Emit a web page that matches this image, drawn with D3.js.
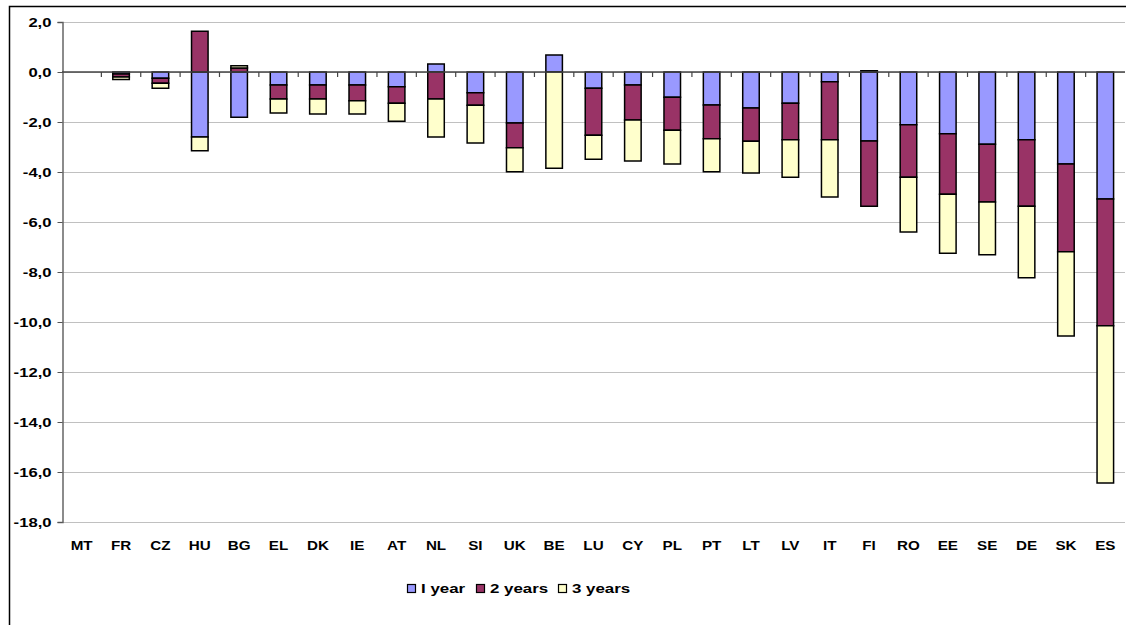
<!DOCTYPE html>
<html><head><meta charset="utf-8">
<script src="https://cdn.jsdelivr.net/npm/d3@7"></script>
<style>body{margin:0;background:#fff}svg{display:block}text{font-family:"Liberation Sans",Arial,sans-serif;font-weight:bold}</style>
</head><body>
<script>
const categories = ["MT","FR","CZ","HU","BG","EL","DK","IE","AT","NL","SI","UK","BE","LU","CY","PL","PT","LT","LV","IT","FI","RO","EE","SE","DE","SK","ES"];
const year1  = [0,-0.08,-0.25,-2.60,-1.81,-0.52,-0.52,-0.52,-0.59,0.32,-0.83,-2.04,0.68,-0.65,-0.52,-1.01,-1.32,-1.44,-1.25,-0.39,-2.76,-2.11,-2.47,-2.89,-2.71,-3.68,-5.08];
const year2  = [0,-0.12,-0.20,1.63,0.16,-0.56,-0.56,-0.63,-0.66,-1.08,-0.50,-0.99,0,-1.88,-1.40,-1.32,-1.35,-1.33,-1.46,-2.32,-2.61,-2.10,-2.42,-2.31,-2.66,-3.51,-5.07];
const year3  = [0,-0.10,-0.20,-0.55,0.09,-0.56,-0.60,-0.53,-0.72,-1.52,-1.51,-0.96,-3.85,-0.96,-1.64,-1.35,-1.32,-1.27,-1.50,-2.29,0.05,-2.19,-2.36,-2.11,-2.86,-3.37,-6.29];
const seriesNames = ["I year","2 years","3 years"];
const colors = ["#9999FF","#993366","#FFFFCC"];
const yTicks = [2,0,-2,-4,-6,-8,-10,-12,-14,-16,-18];

const W=1126,H=625;
const svg=d3.select("body").append("svg").attr("width",W).attr("height",H);
svg.append("rect").attr("x",9.5).attr("y",6.5).attr("width",W+10).attr("height",H+10).attr("fill","none").attr("stroke","#000").attr("stroke-width",1.5);

const x=d3.scaleBand().domain(categories).range([62,1125]);
const y=d3.scaleLinear().domain([-18,2]).range([522,22]);

// gridlines
svg.append("g").selectAll("line").data(yTicks).join("line")
  .attr("x1",62).attr("x2",1125).attr("y1",d=>Math.round(y(d))+0.5).attr("y2",d=>Math.round(y(d))+0.5)
  .attr("stroke","#c0c0c0").attr("stroke-width",1.2);

// y axis
const ya=svg.append("g").attr("transform","translate(62.5,0)").call(d3.axisLeft(y).tickValues(yTicks).tickSize(5).tickPadding(6).tickFormat(d=>d3.format(".1f")(d).replace(".",",").replace("−","-")));
ya.select(".domain").attr("stroke","#666").attr("stroke-width",1.5);
ya.selectAll(".tick line").attr("stroke","#555");
ya.selectAll("text").attr("font-size",13).attr("fill","#000").style("font-weight","bold")
  .attr("x",null).attr("transform","translate(-11,0) scale(1.28,1)");

// stacked bars
const data=categories.map((c,i)=>({c,v:[year1[i],year2[i],year3[i]]}));
const bw=x.bandwidth()*0.42;
const g=svg.append("g");
data.forEach(d=>{
  let pos=0,neg=0;
  d.v.forEach((v,k)=>{
    if(v===0)return;
    let y0,y1;
    if(v>0){y0=pos;y1=pos+v;pos=y1;}else{y0=neg;y1=neg+v;neg=y1;}
    const top=y(Math.max(y0,y1)),bot=y(Math.min(y0,y1));
    g.append("rect").attr("x",x(d.c)+(x.bandwidth()-bw)/2).attr("width",bw)
      .attr("y",top).attr("height",Math.max(bot-top,0.5))
      .attr("fill",colors[k]).attr("stroke","#000").attr("stroke-width",1.5);
  });
});

// zero axis
const xa=svg.append("g").attr("transform",`translate(0,${y(0)})`);
xa.append("line").attr("x1",62).attr("x2",1125).attr("stroke","#444").attr("stroke-width",1.5);
xa.selectAll("line.t").data(categories.slice(1)).join("line").attr("class","t")
  .attr("x1",d=>x(d)).attr("x2",d=>x(d)).attr("y1",0).attr("y2",5).attr("stroke","#444").attr("stroke-width",1.2);

// category labels
svg.append("g").selectAll("text").data(categories).join("text")
  .attr("transform",d=>`translate(${x(d)+x.bandwidth()/2},550) scale(1.17,1)`).attr("text-anchor","middle")
  .attr("font-size",13).text(d=>d);

// legend
const lx=[407,476,558];
const lg=svg.append("g");
seriesNames.forEach((n,k)=>{
  lg.append("rect").attr("x",lx[k]+0.5).attr("y",584.5).attr("width",8).attr("height",8).attr("fill",colors[k]).attr("stroke","#000").attr("stroke-width",1.2);
  lg.append("text").attr("transform",`translate(${lx[k]+14},593) scale(1.3,1)`).attr("font-size",13).text(n);
});
</script>
</body></html>
